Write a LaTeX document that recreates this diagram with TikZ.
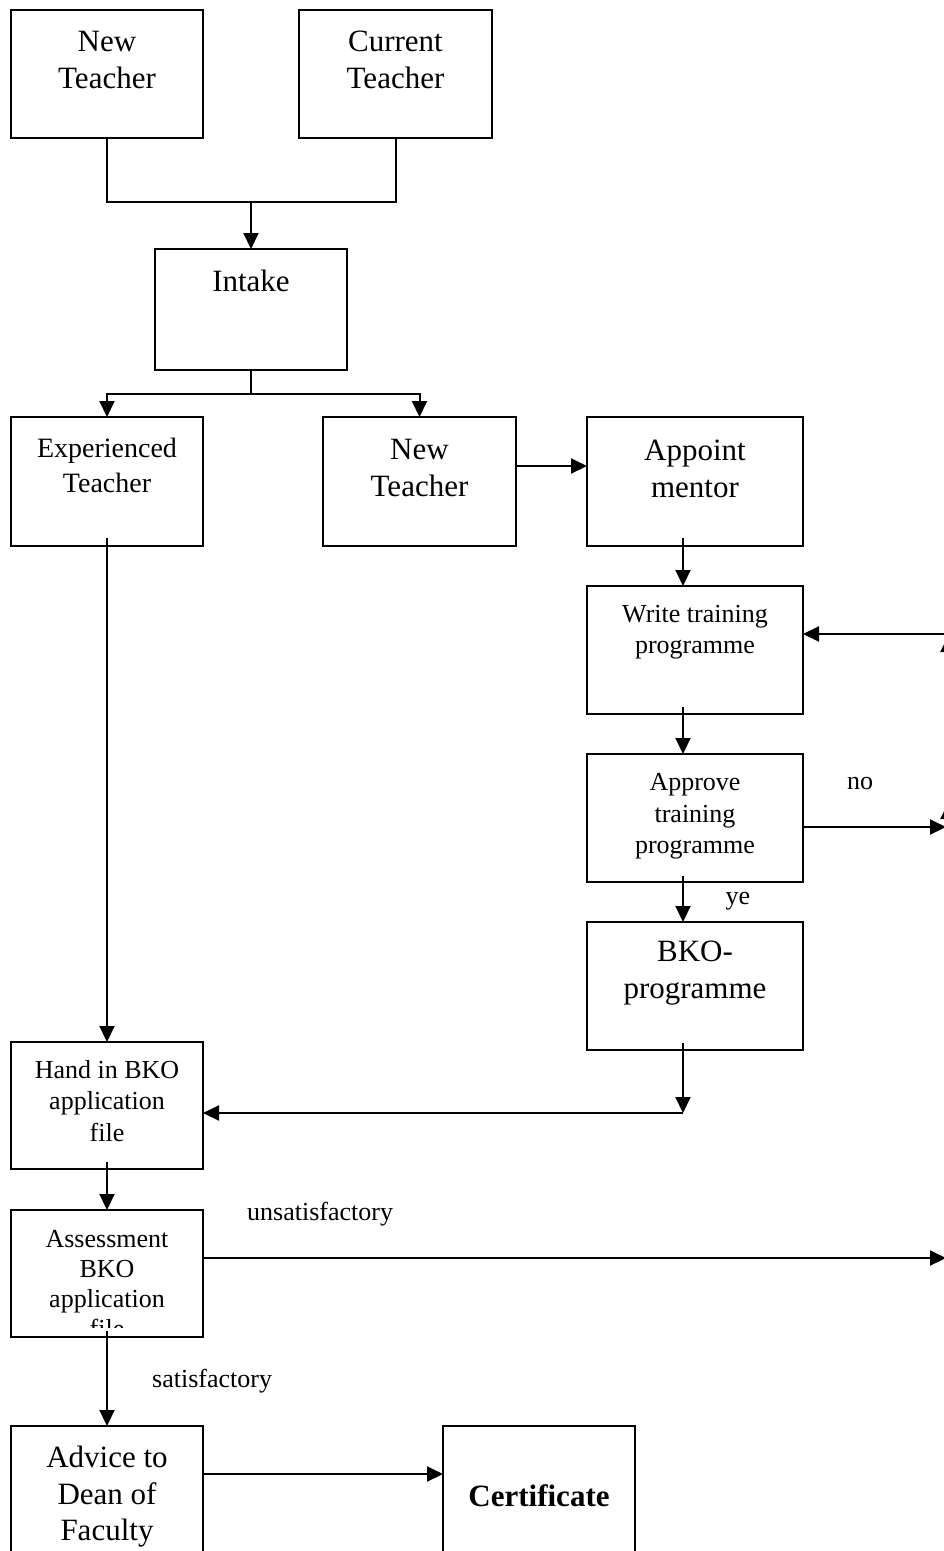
\documentclass[tikz,border=0pt]{standalone}
\usepackage{fontspec}
\setmainfont{Liberation Serif}
\usetikzlibrary{arrows.meta}
\newcommand{\fbig}{\fontsize{31}{37}\selectfont}
\newcommand{\fexp}{\fontsize{28}{35}\selectfont}
\newcommand{\fmed}{\fontsize{26}{31.5}\selectfont}
\newcommand{\fass}{\fontsize{26}{30}\selectfont}
\tikzset{
  box/.style={draw, line width=2pt, fill=white, inner sep=0pt, outer sep=0pt},
  txt/.style={align=center, inner sep=0pt},
  ln/.style={line width=2pt},
  arr/.style={line width=2pt, -{Triangle[length=16pt,width=15pt]}},
  lbl/.style={inner sep=0pt, font=\fmed}
}
\begin{document}
\begin{tikzpicture}[x=1pt,y=-1pt]
\useasboundingbox (0,0) rectangle (944,1551);
% boxes
\node[box, minimum width=192pt, minimum height=128pt] (nt1) at (107,74) {};
\node[box, minimum width=193pt, minimum height=128pt] (ct) at (395.5,74) {};
\node[box, minimum width=192pt, minimum height=121pt] (intake) at (251,309.5) {};
\node[box, minimum width=192pt, minimum height=129pt] (exp) at (107,481.5) {};
\node[box, minimum width=193pt, minimum height=129pt] (nt2) at (419.5,481.5) {};
\node[box, minimum width=216pt, minimum height=129pt] (app) at (695,481.5) {};
\node[box, minimum width=216pt, minimum height=128pt] (write) at (695,650) {};
\node[box, minimum width=216pt, minimum height=128pt] (appr) at (695,818) {};
\node[box, minimum width=216pt, minimum height=128pt] (bko) at (695,986) {};
\node[box, minimum width=192pt, minimum height=127pt] (hand) at (107,1105.5) {};
\node[box, minimum width=192pt, minimum height=127pt] (assess) at (107,1273.5) {};
\node[box, minimum width=192pt, minimum height=144pt] (advice) at (107,1498) {};
\node[box, minimum width=192pt, minimum height=144pt] (cert) at (539,1498) {};
% texts
\node[txt, font=\fbig] (nt1t) at (107,59.5) {New\\Teacher};
\node[txt, font=\fbig] (ctt) at (395.5,59.5) {Current\\Teacher};
\node[txt, font=\fbig] (intaket) at (251,281) {Intake};
\node[txt, font=\fexp] (expt) at (107,465.5) {Experienced\\Teacher};
\node[txt, font=\fbig] (nt2t) at (419.5,467.5) {New\\Teacher};
\node[txt, font=\fbig] (appt) at (695,468.5) {Appoint\\mentor};
\node[txt, font=\fmed] (writet) at (695,632) {Write training\\programme};
\node[txt, font=\fmed] (apprt) at (695,816.5) {Approve\\training\\programme};
\node[txt, font=\fbig] (bkot) at (695,973.5) {BKO-\\programme};
\node[txt, font=\fmed] (handt) at (107,1101) {Hand in BKO\\application\\file};
\begin{scope}
\clip (12,1211) rectangle (202,1327);
\node[txt, font=\fass] (assesst) at (107,1284) {Assessment\\BKO\\application\\file};
\end{scope}
\node[txt, font=\fontsize{31}{36.5}\selectfont] (advicet) at (107,1497) {Advice to\\Dean of\\Faculty};
\node[txt, font=\fontsize{31}{37}\selectfont\bfseries] (certt) at (539,1496) {Certificate};
% labels
\node[lbl] (lno) at (860,783) {no};
\node[lbl] (lye) at (738,901) {ye};
\node[lbl, anchor=west] (lunsat) at (247,1214) {unsatisfactory};
\node[lbl, anchor=west] (lsat) at (152,1381) {satisfactory};
% coordinates
\coordinate (j1) at (251,202);
\coordinate (j2) at (251,394);
\coordinate (k) at (683,1113);
\coordinate (wr) at (947,634);
\coordinate (nr) at (946,827);
\coordinate (ur) at (946,1258);
\coordinate (lb) at (948,827);
\coordinate (lm) at (948,803);
\coordinate (lt) at (948,636);
% connectors
\draw[ln] (nt1.south) |- (j1) -| (ct.south);
\draw[arr] (j1) -- (intake.north);
\draw[ln] (intake.south) -- (j2);
\draw[arr] (j2) -| (exp.north);
\draw[arr] (j2) -| (nt2.north);
\draw[arr] ([yshift=15.5pt]nt2.east) -- ([yshift=15.5pt]app.west);
\draw[arr] ([xshift=-12pt,yshift=8pt]app.south) -- ([xshift=-12pt]write.north);
\draw[arr] ([xshift=-12pt,yshift=7pt]write.south) -- ([xshift=-12pt]appr.north);
\draw[arr] ([xshift=-12pt,yshift=6pt]appr.south) -- ([xshift=-12pt]bko.north);
\draw[arr] ([xshift=-12pt,yshift=7pt]bko.south) -- (k);
\draw[arr] (k) -- (hand.east |- k);
\draw[arr] (wr) -- (write.east |- wr);
\draw[arr] (appr.east |- nr) -- (nr);
\draw[arr] (lb) -- (lm);
\draw[arr] (lm) -- (lt);
\draw[arr] ([yshift=8pt]exp.south) -- (hand.north);
\draw[arr] ([yshift=7pt]hand.south) -- (assess.north);
\draw[arr] ([yshift=15.5pt]assess.east) -- (ur);
\draw[arr] ([yshift=6pt]assess.south) -- (advice.north);
\draw[arr] ([yshift=24pt]advice.east) -- ([yshift=24pt]cert.west);
\end{tikzpicture}
\end{document}
